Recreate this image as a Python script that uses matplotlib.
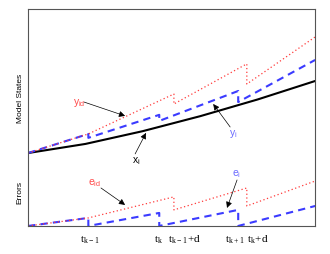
import matplotlib
matplotlib.use("Agg")
from matplotlib import pyplot as plt

plt.rcParams['font.family'] = ['Liberation Sans', 'DejaVu Sans']
plt.rcParams['mathtext.fontset'] = 'custom'
plt.rcParams['mathtext.rm'] = 'Liberation Serif'
plt.rcParams['mathtext.sf'] = 'Liberation Sans'

# model states (upper band) and errors (lower band), time in [0, 10]
x_t = [0, 2, 4, 6, 8, 10]
x_vals = [0.336, 0.378, 0.437, 0.506, 0.583, 0.668]

yi_t = [0, 2.1, 2.1, 4.57, 4.57, 7.32, 7.32, 10]
yi_vals = [0.336, 0.424, 0.406, 0.512, 0.484, 0.622, 0.571, 0.765]

yid_t = [0, 2.1, 5.08, 5.08, 7.62, 7.62, 10]
yid_vals = [0.336, 0.424, 0.608, 0.562, 0.747, 0.654, 0.871]

ei_t = [0, 2.1, 2.1, 4.57, 4.57, 7.32, 7.32, 10]
ei_vals = [0, 0.037, 0, 0.06, 0, 0.074, 0, 0.092]

eid_t = [0, 2.1, 5.08, 5.08, 7.62, 7.62, 10]
eid_vals = [0, 0.037, 0.134, 0.074, 0.175, 0.092, 0.207]

tick_labels = [r'$\mathrm{t_{k-1}}$', r'$\mathrm{t_k}$', r'$\mathrm{t_{k-1}\!+\!d}$',
               r'$\mathrm{t_{k+1}}$', r'$\mathrm{t_k\!+\!d}$']
tick_pos = [2.16, 4.53, 5.44, 7.21, 8.01]

RED = '#ff3a3a'; BLUE = '#3b3bff'
RED_TXT = '#ff4a4a'; BLUE_TXT = '#6a6aff'

fig = plt.figure(figsize=(3.3, 2.55), dpi=100)
ax = fig.add_axes([0.085, 0.11, 0.87, 0.851])

ax.plot(x_t, x_vals, color='black', lw=1.5)
ax.plot(yi_t, yi_vals, color=BLUE, lw=1.5, linestyle=(0, (3.5, 2.5)))
ax.plot(yid_t, yid_vals, color=RED, lw=0.9, linestyle=(0, (1, 2)))
ax.plot(ei_t, ei_vals, color=BLUE, lw=1.5, linestyle=(0, (3.5, 2.5)), clip_on=False)
ax.plot(eid_t, eid_vals, color=RED, lw=0.9, linestyle=(0, (1, 2)), clip_on=False)

ax.set_xlim(0, 10); ax.set_ylim(0, 1)
ax.set_xticks([]); ax.set_yticks([])
for s in ax.spines.values():
    s.set_color('#555555'); s.set_linewidth(0.8)

# labels + arrows: (text, text pos, tail, tip, color)
notes = [(r'$\mathsf{y_{id}}$', (1.78, 0.571), (1.95, 0.571), (3.38, 0.507), RED_TXT),
         (r'$\mathsf{y_{i}}$', (7.14, 0.429), (7.04, 0.456), (6.45, 0.562), BLUE_TXT),
         (r'$\mathsf{x_{i}}$', (3.76, 0.304), (3.73, 0.332), (4.11, 0.429), 'black'),
         (r'$\mathsf{e_{id}}$', (2.33, 0.203), (2.54, 0.175), (3.38, 0.097), RED_TXT),
         (r'$\mathsf{e_{i}}$', (7.25, 0.244), (7.28, 0.212), (6.93, 0.083), BLUE_TXT)]
for txt, pos, tail, tip, c in notes:
    ax.text(pos[0], pos[1], txt, color=c, fontsize=7.5, ha='center', va='center')
    ax.annotate('', xy=tip, xytext=tail,
                arrowprops=dict(arrowstyle='-|>', color='black', lw=0.5,
                                shrinkA=0, shrinkB=0, mutation_scale=9))

for lab, p in zip(tick_labels, tick_pos):
    ax.text(p, -0.06, lab, fontsize=8, ha='center', va='center')

ax.text(-0.028, 0.594, 'Model States', transform=ax.transAxes, rotation=90,
        fontsize=6, ha='center', va='center')
ax.text(-0.028, 0.161, 'Errors', transform=ax.transAxes, rotation=90,
        fontsize=6, ha='center', va='center')

fig.savefig('out.png', dpi=100)
